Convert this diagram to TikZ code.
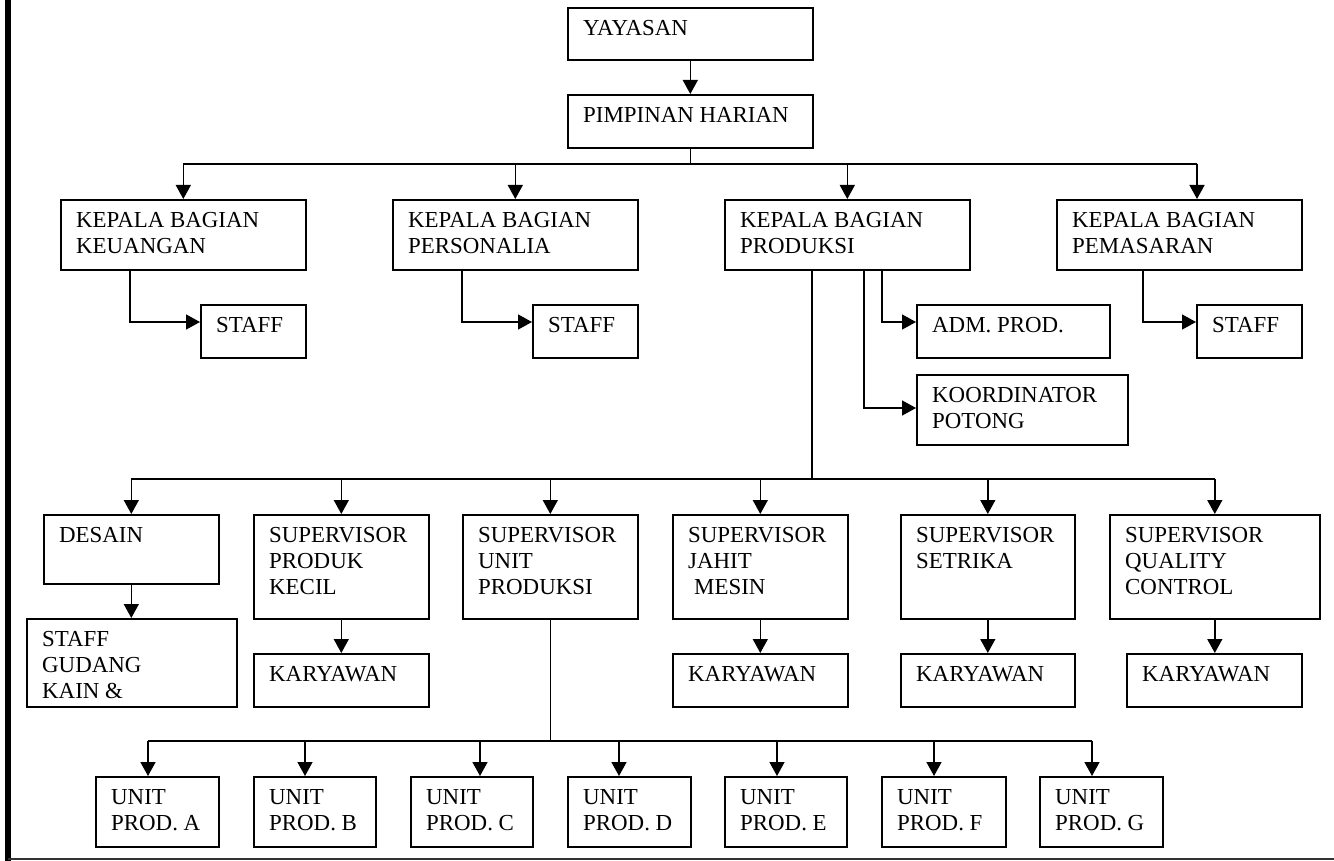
\documentclass[tikz,border=0pt]{standalone}
\usepackage{fontspec}
\setmainfont{Liberation Serif}
\usetikzlibrary{arrows.meta,calc}
\tikzset{
  box/.style={draw, anchor=north west, inner sep=0pt, line width=1.6pt},
  txt/.style={anchor=base west, inner sep=0pt, font=\fontsize{22.9}{26}\selectfont},
  con/.style={line width=1.5pt},
  arr/.style={line width=1.5pt, -{Triangle[width=15pt,length=14pt]}}
}
\newcommand\orgbox[6]{%
  \node[box, minimum width={#4-#2}, minimum height={#5-#3}] (#1) at (#2,#3) {};
  \node[txt] (#1t) at ($(#1.north west)+(16,28.5)$) {\begin{tabular}[t]{@{}l@{}}#6\end{tabular}};%
}
\begin{document}
\begin{tikzpicture}[x=1pt,y=-1pt]
\useasboundingbox (0,0) rectangle (1334,861);
% page borders
\draw[line width=5.5pt] (8,0) -- (8,861);
\draw[line width=2pt, black!80] (8,859) -- (1334,859);
% boxes
\orgbox{yay}{567}{7}{812}{59}{YAYASAN}
\orgbox{pim}{567}{94}{812}{147}{PIMPINAN HARIAN}
\orgbox{keu}{60}{199}{305}{269}{KEPALA BAGIAN\\KEUANGAN}
\orgbox{per}{392}{199}{637}{269}{KEPALA BAGIAN\\PERSONALIA}
\orgbox{pro}{724}{199}{969}{269}{KEPALA BAGIAN\\PRODUKSI}
\orgbox{pem}{1056}{199}{1301}{269}{KEPALA BAGIAN\\PEMASARAN}
\orgbox{sk}{200}{304}{305}{357}{STAFF}
\orgbox{sp}{532}{304}{637}{357}{STAFF}
\orgbox{adm}{916}{304}{1109}{357}{ADM. PROD.}
\orgbox{koor}{916}{374}{1127}{444}{KOORDINATOR\\POTONG}
\orgbox{spm}{1196}{304}{1301}{357}{STAFF}
\orgbox{des}{43}{514}{218}{583}{DESAIN}
\orgbox{spk}{253}{514}{428}{618}{SUPERVISOR\\PRODUK\\KECIL}
\orgbox{sup}{462}{514}{637}{618}{SUPERVISOR\\UNIT\\PRODUKSI}
\orgbox{sjm}{672}{514}{847}{618}{SUPERVISOR\\JAHIT\\\hspace{6pt}MESIN}
\orgbox{sst}{900}{514}{1074}{618}{SUPERVISOR\\SETRIKA}
\orgbox{sqc}{1109}{514}{1319}{618}{SUPERVISOR\\QUALITY\\CONTROL}
\orgbox{gud}{26}{618}{236}{706}{STAFF\\GUDANG\\KAIN \&}
\orgbox{kk}{253}{653}{428}{706}{KARYAWAN}
\orgbox{kj}{672}{653}{847}{706}{KARYAWAN}
\orgbox{ks}{900}{653}{1074}{706}{KARYAWAN}
\orgbox{kq}{1126}{653}{1301}{706}{KARYAWAN}
\orgbox{ua}{95}{776}{218}{846}{UNIT\\PROD. A}
\orgbox{ub}{253}{776}{375}{846}{UNIT\\PROD. B}
\orgbox{uc}{410}{776}{532}{846}{UNIT\\PROD. C}
\orgbox{ud}{567}{776}{690}{846}{UNIT\\PROD. D}
\orgbox{ue}{724}{776}{846}{846}{UNIT\\PROD. E}
\orgbox{uf}{881}{776}{1005}{846}{UNIT\\PROD. F}
\orgbox{ug}{1039}{776}{1162}{846}{UNIT\\PROD. G}
% bus coordinates
\coordinate (b1) at (0,164);
\coordinate (b2) at (0,479);
\coordinate (b3) at (0,741);
% top
\draw[arr] (yay.south) -- (pim.north);
\draw[con] (pim.south) -- (pim.south |- b1);
\coordinate (pemin) at ($(pem.north west)+(141,0)$);
\draw[con] (keu.north |- b1) -- (pemin |- b1);
\draw[arr] (keu.north |- b1) -- (keu.north);
\draw[arr] (per.north |- b1) -- (per.north);
\draw[arr] (pro.north |- b1) -- (pro.north);
\draw[arr] (pemin |- b1) -- (pemin);
% staff links
\draw[arr] ($(keu.south west)+(70,0)$) |- ($(sk.north west)+(0,18)$);
\draw[arr] ($(per.south west)+(70,0)$) |- ($(sp.north west)+(0,18)$);
\draw[arr] ($(pem.south west)+(87,0)$) |- ($(spm.north west)+(0,18)$);
\draw[arr] ($(pro.south west)+(158,0)$) |- ($(adm.north west)+(0,18)$);
\draw[arr] ($(pro.south west)+(140,0)$) |- ($(koor.north west)+(0,34)$);
% production bus
\coordinate (prod) at ($(pro.south west)+(88,0)$);
\draw[con] (prod) -- (prod |- b2);
\draw[con] (des.north |- b2) -- (sqc.north |- b2);
\foreach \n in {des,spk,sup,sjm,sst,sqc}
  \draw[arr] (\n.north |- b2) -- (\n.north);
\draw[arr] (des.south) -- (des.south |- gud.north);
\draw[arr] (spk.south) -- (spk.south |- kk.north);
\draw[arr] (sjm.south) -- (sjm.south |- kj.north);
\draw[arr] (sst.south) -- (sst.south |- ks.north);
\draw[arr] (sqc.south) -- (sqc.south |- kq.north);
% unit bus
\draw[con] (sup.south) -- (sup.south |- b3);
\coordinate (ia) at ($(ua.north west)+(53,0)$);
\coordinate (ib) at ($(ub.north west)+(52,0)$);
\coordinate (ic) at ($(uc.north west)+(70,0)$);
\coordinate (id) at ($(ud.north west)+(52,0)$);
\coordinate (ie) at ($(ue.north west)+(53,0)$);
\coordinate (if) at ($(uf.north west)+(53,0)$);
\coordinate (ig) at ($(ug.north west)+(53,0)$);
\draw[con] (ia |- b3) -- (ig |- b3);
\foreach \c in {ia,ib,ic,id,ie,if,ig}
  \draw[arr] (\c |- b3) -- (\c);
\end{tikzpicture}
\end{document}
